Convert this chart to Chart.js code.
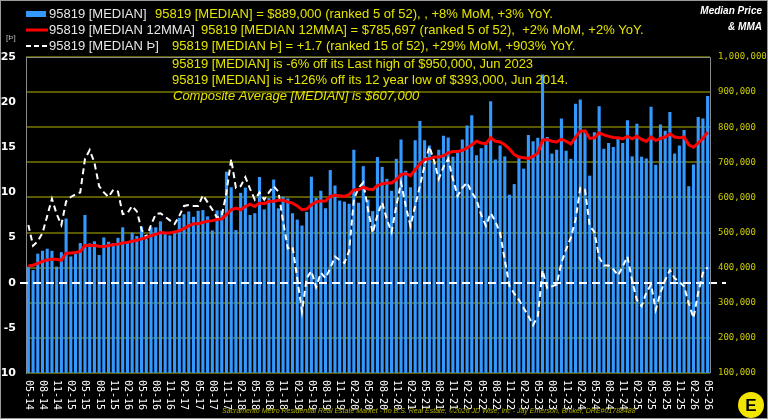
<!DOCTYPE html>
<html>
<head>
<meta charset="utf-8">
<script src="https://cdn.jsdelivr.net/npm/chart.js@4.4.1/dist/chart.umd.min.js"></script>
<style>
  html, body { margin: 0; padding: 0; background: #000; }
  #wrap { width: 768px; height: 419px; position: relative; }
  canvas { display: block; }
</style>
</head>
<body>
<div id="wrap"><canvas id="chart" width="768" height="419"></canvas></div>
<script>
// months 05-14 .. 05-26
const months = [];
for (let k = 0; k < 145; k++) {
    const m = (4 + k) % 12 + 1;
    const y = 14 + Math.floor((4 + k) / 12);
    months.push(String(m).padStart(2, '0') + '-' + y);
}

// median price, in $1000 (one row per year, starting May)
const medianPrice = [
    403, 393, 440, 448, 454, 448, 403, 444, 540, 432, 439, 470,
    550, 469, 475, 436, 486, 474, 470, 485, 515, 470, 500, 490,
    517, 481, 515, 515, 532, 497, 492, 499, 542, 552, 560, 545,
    562, 564, 546, 506, 563, 563, 673, 629, 507, 613, 628, 550,
    555, 658, 566, 598, 651, 569, 602, 597, 555, 537, 520, 559,
    659, 599, 619, 569, 678, 634, 591, 588, 582, 736, 585, 689,
    594, 561, 715, 687, 653, 619, 710, 765, 676, 629, 763, 818,
    763, 748, 698, 736, 776, 771, 716, 727, 765, 805, 834, 720,
    740, 750, 874, 708, 748, 717, 608, 638, 713, 682, 778, 760,
    770, 950, 772, 725, 736, 825, 733, 710, 867, 879, 792, 662,
    786, 860, 739, 755, 744, 769, 755, 820, 717, 810, 716, 711,
    858, 693, 808, 790, 843, 725, 748, 792, 632, 694, 829, 825,
    889
];

// 12 month moving average, in $1000
const medianMMA = [
    405, 407, 412, 418, 422, 424, 424, 421, 441, 442, 443, 446,
    463, 464, 463, 461, 460, 463, 465, 467, 470, 472, 475, 478,
    482, 486, 491, 495, 500, 499, 499, 502, 505, 512, 519, 525,
    525, 529, 532, 534, 537, 539, 551, 565, 570, 565, 574, 581,
    574, 584, 582, 589, 589, 592, 592, 587, 584, 576, 565, 567,
    579, 587, 590, 590, 603, 606, 605, 603, 608, 622, 622, 629,
    624, 622, 634, 639, 641, 641, 651, 665, 668, 662, 679, 696,
    708, 710, 715, 715, 719, 727, 731, 731, 734, 741, 750, 760,
    755, 753, 770, 760, 758, 750, 738, 722, 715, 713, 711, 717,
    727, 763, 765, 760, 758, 766, 760, 752, 772, 789, 790, 768,
    770, 784, 778, 774, 771, 770, 767, 774, 767, 774, 765, 760,
    772, 762, 768, 772, 781, 772, 770, 772, 750, 743, 755, 768,
    786
];

// Þ (left axis)
const medianThorn = [
    6.4, 4.1, 4.6, 5.5, 7.4, 9.3, 7.6, 6.4, 9.0, 9.5, 9.8, 10.0,
    13.7, 14.7, 13.3, 10.7, 10.0, 9.5, 10.3, 10.1, 7.6, 7.7, 8.5, 7.9,
    5.9, 5.0, 6.4, 7.6, 7.7, 7.3, 6.9, 6.5, 7.4, 8.5, 8.6, 8.5,
    8.5, 9.7, 8.9, 8.1, 7.2, 7.4, 10.0, 13.7, 10.5, 10.7, 11.7, 10.4,
    9.2, 10.0, 9.2, 10.0, 10.7, 10.1, 6.8, 3.8, 4.0, 0.5, -3.2, 0.5,
    1.3, -0.5, 1.1, 0.5, 1.6, 2.9, 2.5, 2.2, 3.5, 9.2, 10.5, 11.1,
    8.1, 5.5, 7.5, 8.9, 7.0, 5.6, 8.5, 11.1, 8.5, 6.3, 8.5, 10.7,
    13.0, 15.1, 13.5, 11.5, 12.8, 13.7, 11.5, 9.6, 10.5, 11.1, 10.0, 9.2,
    7.5, 6.3, 7.7, 6.8, 5.5, 2.5, -0.4, -1.2, -1.9, -2.8, -3.7, -4.7,
    -3.7, 1.4, -0.6, -0.4, -0.2, 2.2, 3.7, 5.0, 7.0, 10.5, 10.3, 6.3,
    5.6, 2.8, 1.9, 1.9, 1.5, 0.8, 1.8, 2.9, 0.2, -1.9, -2.6, -1.1,
    -0.2, -3.0, -1.1, 0.3, 1.4, 0.5, 0.1, -0.4, -2.3, -3.9, -1.1, 1.1,
    1.7
];

const legendRows = [
    { name: '95819 [MEDIAN]', note: '95819 [MEDIAN] = $889,000 (ranked 5 of 52), , +8% MoM, +3% YoY.', noteX: 155 },
    { name: '95819 [MEDIAN 12MMA]', note: '95819 [MEDIAN 12MMA] = $785,697 (ranked 5 of 52),  +2% MoM, +2% YoY.', noteX: 201 },
    { name: '95819 [MEDIAN \u00DE]', note: '95819 [MEDIAN \u00DE] = +1.7 (ranked 15 of 52), +29% MoM, +903% YoY.', noteX: 172 }
];
const notes = [
    '95819 [MEDIAN] is -6% off its Last high of $950,000, Jun 2023',
    '95819 [MEDIAN] is +126% off its 12 year low of $393,000, Jun 2014.'
];
const compositeNote = 'Composite Average [MEDIAN] is $607,000';
const footer = 'Sacramento Metro Residential Real Estate Market - no B.S. Real Estate, \u00A92026 JD Wise, Inc - Jay Emerson, Broker, DRE#01788488';

const YELLOW = '#e4e400';
const BLUE = '#3399ff';
const SANS = '"Liberation Sans", Arial, sans-serif';
const MONO = '"DejaVu Sans Mono", monospace';

// draws legend, notes, zero line, rotated x labels, logo
const decorPlugin = {
    id: 'decor',
    beforeDraw(chart) {
        const ctx = chart.ctx;
        ctx.save();
        ctx.fillStyle = '#000';
        ctx.fillRect(0, 0, chart.width, chart.height);
        ctx.restore();
    },
    afterDatasetsDraw(chart) {
        const ctx = chart.ctx;
        const yL = chart.scales.yL;
        // zero line
        ctx.save();
        ctx.strokeStyle = '#ffffff';
        ctx.lineWidth = 2;
        ctx.setLineDash([8, 5]);
        const y0 = Math.round(yL.getPixelForValue(0));
        ctx.beginPath();
        ctx.moveTo(20, y0);
        ctx.lineTo(726, y0);
        ctx.stroke();
        ctx.restore();
    },
    afterDraw(chart) {
        const ctx = chart.ctx;
        const area = chart.chartArea;
        const xs = chart.scales.x;
        ctx.save();

        // plot frame
        ctx.strokeStyle = '#8a8a8a';
        ctx.lineWidth = 1;
        ctx.beginPath();
        ctx.moveTo(area.left, area.top + 0.5);
        ctx.lineTo(area.right + 0.5, area.top + 0.5);
        ctx.lineTo(area.right + 0.5, area.bottom);
        ctx.stroke();
        // outer border
        ctx.strokeStyle = '#9a9a9a';
        ctx.strokeRect(0.5, 0.5, chart.width - 1, chart.height - 1);

        // legend rows
        ctx.textBaseline = 'middle';
        ctx.font = '13px ' + SANS;
        const rowY = [14, 30, 46];
        ctx.fillStyle = BLUE;
        ctx.fillRect(26, 11, 20, 6);
        ctx.strokeStyle = '#ff0000';
        ctx.lineWidth = 3;
        ctx.beginPath(); ctx.moveTo(26, 30); ctx.lineTo(48, 30); ctx.stroke();
        ctx.strokeStyle = '#ffffff';
        ctx.lineWidth = 2;
        ctx.setLineDash([5, 3]);
        ctx.beginPath(); ctx.moveTo(26, 46); ctx.lineTo(48, 46); ctx.stroke();
        ctx.setLineDash([]);
        legendRows.forEach((r, k) => {
            ctx.fillStyle = '#e6e6e6';
            ctx.fillText(r.name, 49, rowY[k]);
            ctx.fillStyle = YELLOW;
            ctx.fillText(r.note, r.noteX, rowY[k]);
        });

        // notes in plot
        ctx.fillStyle = YELLOW;
        ctx.fillText(notes[0], 172, 64);
        ctx.fillText(notes[1], 172, 80);
        ctx.font = 'italic 13px ' + SANS;
        ctx.fillText(compositeNote, 173, 96);

        // title
        ctx.fillStyle = '#ffffff';
        ctx.textAlign = 'right';
        ctx.font = 'bold italic 10px ' + SANS;
        ctx.fillText('Median Price', 762, 11);
        ctx.fillText('& MMA', 762, 27);

        // [Þ] unit label
        ctx.textAlign = 'left';
        ctx.fillStyle = '#bbbbbb';
        ctx.font = '8px ' + SANS;
        ctx.fillText('[\u00DE]', 6, 38);

        // x labels, rotated clockwise
        ctx.fillStyle = '#ffffff';
        ctx.font = '10px ' + MONO;
        ctx.textBaseline = 'middle';
        months.forEach((lab, k) => {
            if (k % 3 !== 0) return;
            const x = xs.getPixelForValue(k);
            ctx.save();
            ctx.translate(x, 380);
            ctx.rotate(Math.PI / 2);
            ctx.fillText(lab, 0, 0);
            ctx.restore();
        });

        // footer
        ctx.fillStyle = '#b4b400';
        ctx.font = 'italic 7px ' + SANS;
        ctx.textAlign = 'left';
        ctx.fillText(footer, 222, 411);

        // logo
        ctx.fillStyle = '#f2e600';
        ctx.beginPath();
        ctx.arc(751, 405, 13, 0, Math.PI * 2);
        ctx.fill();
        ctx.fillStyle = '#000';
        ctx.font = 'bold 17px ' + SANS;
        ctx.textAlign = 'center';
        ctx.fillText('E', 751, 406);

        ctx.restore();
    }
};

new Chart(document.getElementById('chart'), {
    data: {
        labels: months,
        datasets: [
            {
                type: 'line',
                label: '95819 [MEDIAN 12MMA]',
                data: medianMMA.map(v => v * 1000),
                yAxisID: 'yR',
                borderColor: '#ff0000',
                borderWidth: 3,
                pointRadius: 0,
                tension: 0,
                order: 1
            },
            {
                type: 'line',
                label: '95819 [MEDIAN \u00DE]',
                data: medianThorn,
                yAxisID: 'yL',
                borderColor: '#ffffff',
                borderWidth: 2,
                borderDash: [6, 4],
                pointRadius: 0,
                tension: 0,
                order: 2
            },
            {
                type: 'bar',
                label: '95819 [MEDIAN]',
                data: medianPrice.map(v => v * 1000),
                yAxisID: 'yR',
                backgroundColor: BLUE,
                barPercentage: 0.66,
                categoryPercentage: 1,
                order: 3
            }
        ]
    },
    options: {
        responsive: false,
        devicePixelRatio: 1,
        animation: false,
        layout: { padding: { top: 57, left: 0, right: 0, bottom: 0 } },
        plugins: { legend: { display: false }, tooltip: { enabled: false } },
        scales: {
            x: {
                type: 'category',
                offset: true,
                grid: { display: false },
                border: { display: false },
                ticks: { display: false },
                afterFit: s => { s.height = 46; }
            },
            yL: {
                position: 'left',
                min: -10,
                max: 25,
                grid: { display: false, drawTicks: false },
                border: { display: true, color: '#8a8a8a', width: 1 },
                ticks: {
                    stepSize: 5,
                    color: '#ffffff',
                    padding: 10,
                    font: { family: 'DejaVu Sans', size: 11, weight: 'bold' }
                },
                afterFit: s => { s.width = 26; }
            },
            yR: {
                position: 'right',
                min: 100000,
                max: 1000000,
                grid: { color: '#5a5a00', lineWidth: 2, drawTicks: false },
                border: { display: false },
                ticks: {
                    stepSize: 100000,
                    color: '#cccc00',
                    padding: 8,
                    font: { family: 'DejaVu Sans Mono', size: 9 },
                    callback: v => v.toLocaleString('en-US')
                },
                afterFit: s => { s.width = 58; }
            }
        }
    },
    plugins: [decorPlugin]
});
</script>
</body>
</html>
